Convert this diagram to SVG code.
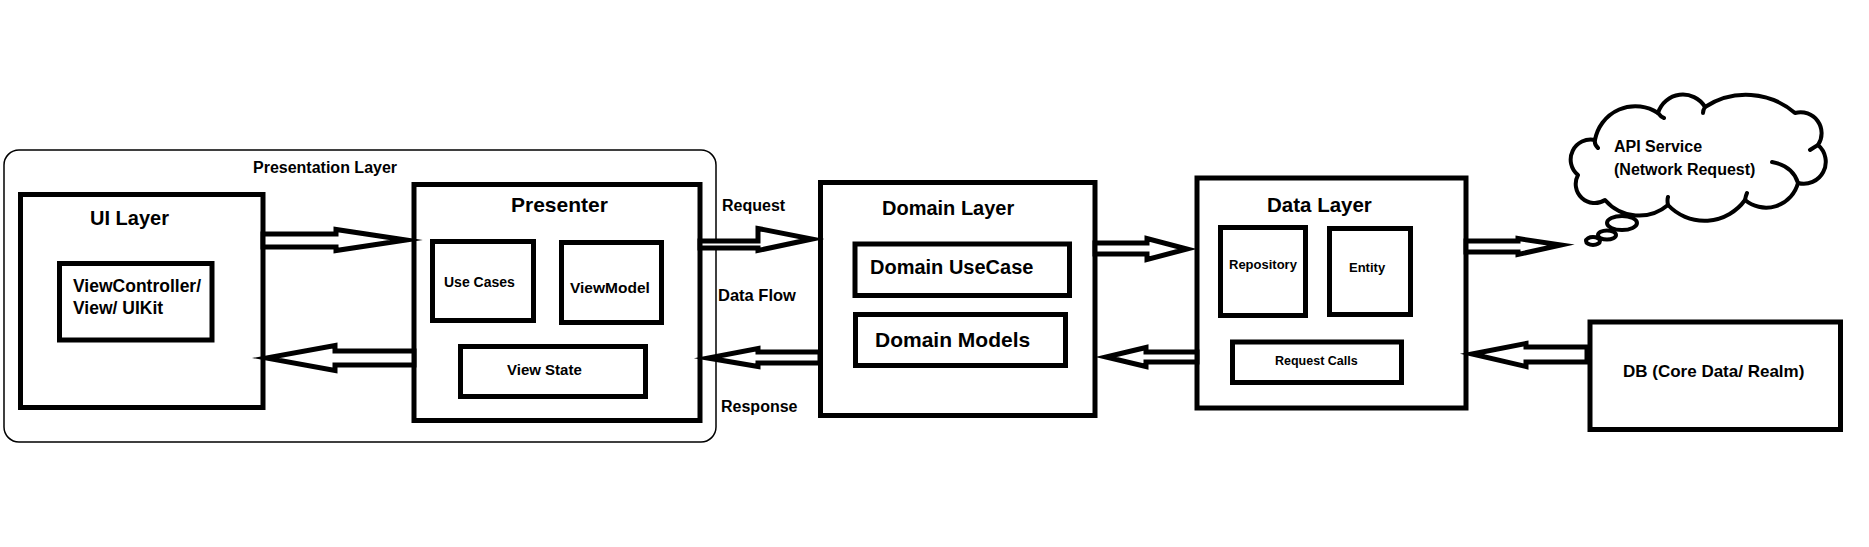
<svg xmlns="http://www.w3.org/2000/svg" width="1869" height="547" viewBox="0 0 1869 547">
<style>
.box{fill:#fff;stroke:#000;stroke-width:5}
.frame{fill:#fff;stroke:#000;stroke-width:1.5}
.arrow{fill:#fff;stroke:#000;stroke-width:5;stroke-linejoin:miter;stroke-miterlimit:10}
.cl{fill:#fff;stroke:#000;stroke-width:4;stroke-linejoin:round;stroke-linecap:round}
.hook{fill:none;stroke:#000;stroke-width:4;stroke-linecap:round}
text{font-family:"Liberation Sans",Arial,sans-serif;font-weight:bold;fill:#000}
</style>
<rect width="1869" height="547" fill="#fff"/>
<g id="presentation-layer">
<rect class="frame" x="4" y="150" width="712" height="292" rx="15" ry="15"/>
<text x="253" y="173" font-size="16">Presentation Layer</text>
</g>
<g id="ui-layer">
<rect class="box" x="20.5" y="194.5" width="242.5" height="213"/>
<text x="90" y="225" font-size="20">UI Layer</text>
</g>
<g id="viewcontroller">
<rect class="box" x="59.5" y="263.5" width="152.5" height="76.5"/>
<text x="73" y="292" font-size="17.5">ViewController/</text>
<text x="73" y="314" font-size="17.5">View/ UIKit</text>
</g>
<g id="presenter">
<rect class="box" x="414" y="184.5" width="286" height="236"/>
<text x="511" y="212" font-size="21">Presenter</text>
</g>
<g id="use-cases">
<rect class="box" x="432.5" y="241.5" width="101" height="79"/>
<text x="444" y="287" font-size="14">Use Cases</text>
</g>
<g id="viewmodel">
<rect class="box" x="561.5" y="242.5" width="100" height="80"/>
<text x="570" y="293" font-size="15.5">ViewModel</text>
</g>
<g id="view-state">
<rect class="box" x="460.5" y="346.5" width="185" height="50"/>
<text x="507" y="375" font-size="15">View State</text>
</g>
<g id="flow-labels">
<text x="722" y="211" font-size="16">Request</text>
<text x="718" y="301" font-size="16.5">Data Flow</text>
<text x="721" y="412" font-size="16">Response</text>
</g>
<g id="domain-layer">
<rect class="box" x="820.5" y="182.5" width="274.5" height="233"/>
<text x="882" y="215" font-size="20">Domain Layer</text>
</g>
<g id="domain-usecase">
<rect class="box" x="855" y="244" width="214.5" height="51.5"/>
<text x="870" y="274" font-size="20">Domain UseCase</text>
</g>
<g id="domain-models">
<rect class="box" x="855.5" y="314.5" width="210" height="51"/>
<text x="875" y="347" font-size="21">Domain Models</text>
</g>
<g id="data-layer">
<rect class="box" x="1197" y="178" width="269" height="230"/>
<text x="1267" y="212" font-size="20.5">Data Layer</text>
</g>
<g id="repository">
<rect class="box" x="1220.5" y="227.5" width="85" height="88"/>
<text x="1229" y="269" font-size="13">Repository</text>
</g>
<g id="entity">
<rect class="box" x="1329.5" y="228.5" width="81" height="86"/>
<text x="1349" y="272" font-size="13">Entity</text>
</g>
<g id="request-calls">
<rect class="box" x="1232.5" y="342" width="169" height="40.5"/>
<text x="1275" y="365" font-size="12.5">Request Calls</text>
</g>
<g id="db">
<rect class="box" x="1590" y="322" width="250.5" height="107.5"/>
<text x="1623" y="377" font-size="17">DB (Core Data/ Realm)</text>
</g>
<g id="api-service">
<path class="cl" d="M1578,175 A20,20 0 0 1 1595,140 A41,41 0 0 1 1658,113 A26,26 0 0 1 1705,107 A75,75 0 0 1 1795,113 A21,21 0 0 1 1818,145 A22,22 0 0 1 1798,183 A33,33 0 0 1 1745,200 A50,50 0 0 1 1668,205 A45,45 0 0 1 1605,200 A19,19 0 0 1 1578,175 Z"/>
<path class="hook" d="M1598,148 Q1594,144 1595,140 M1658,113 Q1661,117 1664,118 M1705,107 Q1703,110 1703,113 M1818,145 Q1813,148 1810,150 M1772,162 Q1793,166 1798,183 M1745,200 Q1746,195 1747,193 M1668,205 Q1667,200 1668,197"/>
<ellipse class="cl" cx="1622" cy="223" rx="15" ry="7"/>
<ellipse class="cl" cx="1607" cy="235" rx="9" ry="4.5"/>
<ellipse class="cl" cx="1593" cy="241" rx="7" ry="4"/>
<text x="1614" y="152" font-size="16">API Service</text>
<text x="1614" y="175" font-size="16">(Network Request)</text>
</g>
<g id="connectors">
<polygon class="arrow" points="263,234 336,234 336,229.5 406,240 336,250.5 336,247 263,247"/>
<polygon class="arrow" points="414,351 335,351 335,345.5 266,358 335,370.5 335,365 414,365"/>
<polygon class="arrow" points="700,241 758,241 758,228.5 812,239 758,250.5 758,248 700,248"/>
<polygon class="arrow" points="820,352 758,352 758,348.5 708,358 758,366.5 758,363 820,363"/>
<polygon class="arrow" points="1095,243 1147,243 1147,238.5 1187,249 1147,259.5 1147,254 1095,254"/>
<polygon class="arrow" points="1197,352 1146,352 1146,347.5 1106,357 1146,366.5 1146,362 1197,362"/>
<polygon class="arrow" points="1466,241 1518,241 1518,238.5 1561,245 1518,254.5 1518,252 1466,252"/>
<polygon class="arrow" points="1587,347 1526,347 1526,343.5 1472,354 1526,366.5 1526,362 1587,362"/>
</g>
</svg>
